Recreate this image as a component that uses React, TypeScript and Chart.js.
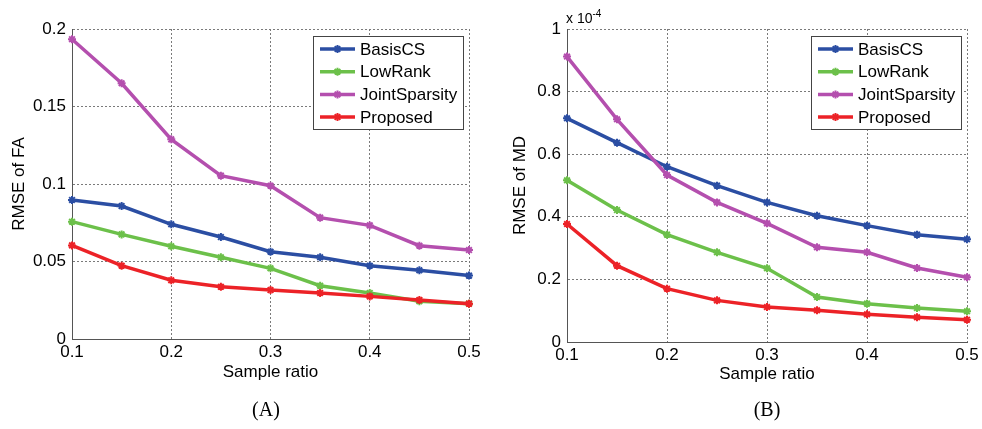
import React, { useEffect, useRef } from 'react';
import { Chart, registerables } from 'chart.js';

Chart.register(...registerables);

const sampleRatios = [0.1, 0.15, 0.2, 0.25, 0.3, 0.35, 0.4, 0.45, 0.5];
const seriesNames = ['BasisCS', 'LowRank', 'JointSparsity', 'Proposed'];
const seriesColors = ['#2b4ea3', '#6cc04a', '#b44fae', '#ec2227'];

const faBasisCS = [0.0897, 0.0858, 0.074, 0.0658, 0.0563, 0.0527, 0.0473, 0.0443, 0.0409];
const faLowRank = [0.0757, 0.0675, 0.0598, 0.0527, 0.0456, 0.0344, 0.0297, 0.0243, 0.0228];
const faJointSparsity = [0.1934, 0.165, 0.1288, 0.1054, 0.0989, 0.0783, 0.0733, 0.0602, 0.0574];
const faProposed = [0.0604, 0.0473, 0.0379, 0.0337, 0.0316, 0.0297, 0.0275, 0.0252, 0.0228];

// values in units of 1e-4
const mdBasisCS = [0.7146, 0.6368, 0.56, 0.4995, 0.446, 0.4036, 0.3717, 0.343, 0.328];
const mdLowRank = [0.5165, 0.4217, 0.343, 0.2865, 0.2354, 0.1438, 0.1225, 0.1086, 0.098];
const mdJointSparsity = [0.912, 0.7115, 0.5335, 0.446, 0.379, 0.3025, 0.2865, 0.2364, 0.2066];
const mdProposed = [0.377, 0.2438, 0.1704, 0.133, 0.1118, 0.1012, 0.0884, 0.0789, 0.0713];

const xTickValues = [0.1, 0.2, 0.3, 0.4, 0.5];
const xTickLabels = ['0.1', '0.2', '0.3', '0.4', '0.5'];
const faTickValues = [0, 0.05, 0.1, 0.15, 0.2];
const faTickLabels = ['0', '0.05', '0.1', '0.15', '0.2'];
const mdTickValues = [0, 0.2, 0.4, 0.6, 0.8, 1];
const mdTickLabels = ['0', '0.2', '0.4', '0.6', '0.8', '1'];

const FONT = '"Liberation Sans", Arial, sans-serif';

const legendPlugin = {
  id: 'boxLegend',
  afterDraw(chart: any) {
    const { ctx, chartArea } = chart;
    ctx.save();
    ctx.font = '17px ' + FONT;
    const labels: string[] = chart.data.datasets.map((d: any) => d.label);
    const tw = Math.max(...labels.map((l) => ctx.measureText(l).width));
    const w = Math.round(47 + tw + 6);
    const h = 93;
    const x0 = Math.round(chartArea.right - 6 - w);
    const y0 = Math.round(chartArea.top + 7);
    ctx.fillStyle = '#ffffff';
    ctx.fillRect(x0, y0, w, h);
    ctx.strokeStyle = '#444444';
    ctx.lineWidth = 1;
    ctx.setLineDash([]);
    ctx.strokeRect(x0 + 0.5, y0 + 0.5, w, h);
    chart.data.datasets.forEach((d: any, i: number) => {
      const y = y0 + 13 + i * 22.7;
      ctx.strokeStyle = d.borderColor;
      ctx.lineWidth = 3.5;
      ctx.beginPath();
      ctx.moveTo(x0 + 7, y);
      ctx.lineTo(x0 + 42, y);
      ctx.stroke();
      const cx = x0 + 24.5;
      const r = 4;
      ctx.lineWidth = 2;
      ctx.beginPath();
      ctx.moveTo(cx - r, y);
      ctx.lineTo(cx + r, y);
      ctx.moveTo(cx, y - r);
      ctx.lineTo(cx, y + r);
      ctx.moveTo(cx - r * 0.7, y - r * 0.7);
      ctx.lineTo(cx + r * 0.7, y + r * 0.7);
      ctx.moveTo(cx - r * 0.7, y + r * 0.7);
      ctx.lineTo(cx + r * 0.7, y - r * 0.7);
      ctx.stroke();
      ctx.fillStyle = '#000000';
      ctx.textBaseline = 'middle';
      ctx.textAlign = 'left';
      ctx.fillText(d.label, x0 + 47, y + 1);
    });
    ctx.restore();
  },
};

type PanelProps = {
  left: number;
  width: number;
  series: number[][];
  yTicks: number[];
  yLabels: string[];
  yMax: number;
  yTitle: string;
  pad: { left: number; right: number; top: number };
  yAxisWidth: number;
  xAxisHeight: number;
  yTitlePad: number;
  xTitlePad: number;
};

function Panel(props: PanelProps) {
  const ref = useRef<HTMLCanvasElement | null>(null);
  useEffect(() => {
    if (!ref.current) return;
    const datasets = props.series.map((vals, si) => ({
      label: seriesNames[si],
      data: vals.map((v, i) => ({ x: sampleRatios[i], y: v })),
      borderColor: seriesColors[si],
      backgroundColor: seriesColors[si],
      borderWidth: 3.5,
      pointStyle: 'star',
      pointRadius: 4,
      pointBorderWidth: 2,
      pointHoverRadius: 4,
      tension: 0,
      clip: 10,
      order: seriesNames.length - si,
    }));
    const chart = new Chart(ref.current, {
      type: 'line',
      data: { datasets },
      options: {
        animation: false,
        responsive: false,
        events: [],
        layout: { padding: { left: props.pad.left, right: props.pad.right, top: props.pad.top, bottom: 0 } },
        plugins: { legend: { display: false }, tooltip: { enabled: false } },
        scales: {
          x: {
            type: 'linear',
            min: 0.1,
            max: 0.5,
            afterBuildTicks: (scale: any) => {
              scale.ticks = xTickValues.map((v) => ({ value: v }));
            },
            afterFit: (scale: any) => {
              scale.height = props.xAxisHeight;
            },
            ticks: {
              autoSkip: false,
              maxRotation: 0,
              padding: 3,
              color: '#000',
              font: { family: FONT, size: 17 },
              callback: (_v: any, i: number) => xTickLabels[i],
            },
            grid: { color: '#7a7a7a', lineWidth: 1, drawTicks: false },
            border: { display: true, color: '#555555', width: 1, dash: [2, 2] },
            title: {
              display: true,
              text: 'Sample ratio',
              color: '#000',
              font: { family: FONT, size: 17 },
              padding: { top: 0, bottom: props.xTitlePad },
            },
          },
          y: {
            type: 'linear',
            min: 0,
            max: props.yMax,
            afterBuildTicks: (scale: any) => {
              scale.ticks = props.yTicks.map((v) => ({ value: v }));
            },
            afterFit: (scale: any) => {
              scale.width = props.yAxisWidth;
            },
            ticks: {
              padding: 6,
              color: '#000',
              font: { family: FONT, size: 17 },
              callback: (_v: any, i: number) => props.yLabels[i],
            },
            grid: { color: '#7a7a7a', lineWidth: 1, drawTicks: false },
            border: { display: true, color: '#555555', width: 1, dash: [2, 2] },
            title: {
              display: true,
              text: props.yTitle,
              color: '#000',
              font: { family: FONT, size: 17 },
              padding: { top: props.yTitlePad, bottom: 0 },
            },
          },
        },
      },
      plugins: [legendPlugin],
    } as any);
    return () => chart.destroy();
  }, []);
  return (
    <canvas
      ref={ref}
      width={props.width}
      height={429}
      style={{ position: 'absolute', left: props.left, top: 0, width: props.width, height: 429 }}
    />
  );
}

export default function App() {
  return (
    <div style={{ position: 'fixed', left: 0, top: 0, width: 982, height: 429, background: '#fff', overflow: 'hidden' }}>
      <Panel
        left={0}
        width={490}
        series={[faBasisCS, faLowRank, faJointSparsity, faProposed]}
        yTicks={faTickValues}
        yLabels={faTickLabels}
        yMax={0.2}
        yTitle="RMSE of FA"
        pad={{ left: 0, right: 21, top: 29 }}
        yAxisWidth={72}
        xAxisHeight={90}
        yTitlePad={9}
        xTitlePad={46}
      />
      <Panel
        left={490}
        width={492}
        series={[mdBasisCS, mdLowRank, mdJointSparsity, mdProposed]}
        yTicks={mdTickValues}
        yLabels={mdTickLabels}
        yMax={1}
        yTitle="RMSE of MD"
        pad={{ left: 13, right: 15, top: 29 }}
        yAxisWidth={64}
        xAxisHeight={87}
        yTitlePad={7}
        xTitlePad={44}
      />
      <div
        style={{ position: 'absolute', left: 566, top: 11, fontFamily: FONT, fontSize: 14, lineHeight: '14px', color: '#000', whiteSpace: 'nowrap' }}
      >
        x 10<span style={{ position: 'relative', top: -6, fontSize: 10 }}>-4</span>
      </div>
      <div
        style={{ position: 'absolute', left: 216, top: 399, width: 100, textAlign: 'center', fontFamily: '"Liberation Serif", "Times New Roman", serif', fontSize: 20, lineHeight: '20px', color: '#000' }}
      >
        (A)
      </div>
      <div
        style={{ position: 'absolute', left: 717, top: 399, width: 100, textAlign: 'center', fontFamily: '"Liberation Serif", "Times New Roman", serif', fontSize: 20, lineHeight: '20px', color: '#000' }}
      >
        (B)
      </div>
    </div>
  );
}
